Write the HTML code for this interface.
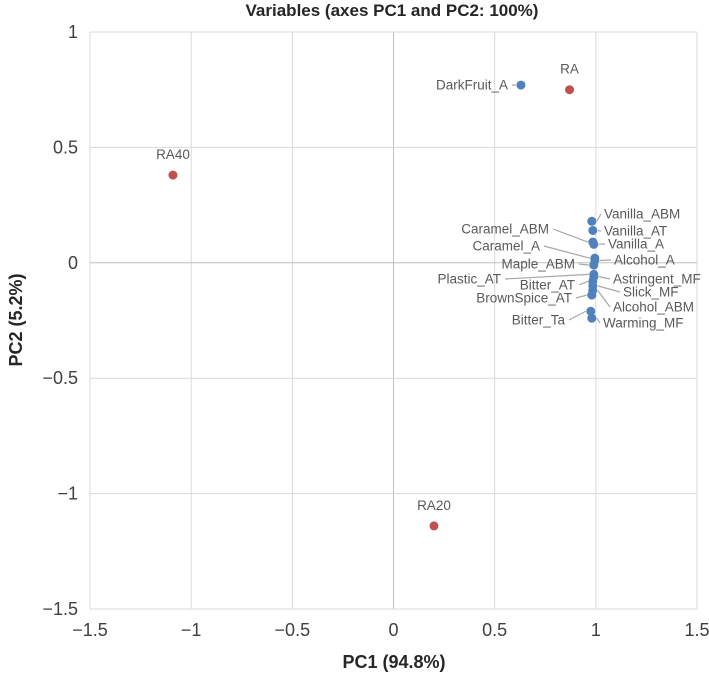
<!DOCTYPE html>
<html><head><meta charset="utf-8"><style>
body{margin:0;background:#fff}
svg{display:block;font-family:"Liberation Sans Narrow","Liberation Sans",sans-serif}
</style></head><body>
<svg id="c" width="709" height="684" viewBox="0 0 709 684">
<text x="392" y="16" text-anchor="middle" font-size="17" font-weight="bold" fill="#262626">Variables (axes PC1 and PC2: 100%)</text>
<text x="394" y="668" text-anchor="middle" font-size="18" font-weight="bold" fill="#262626">PC1 (94.8%)</text>
<text transform="translate(22,320) rotate(-90)" text-anchor="middle" font-size="18" font-weight="bold" fill="#262626">PC2 (5.2%)</text>
<g id="grid"></g><g id="lines"></g><g id="pts"></g><g id="labs"></g>
</svg>
<script>
const xTicks=[-1.5,-1,-0.5,0,0.5,1,1.5];
const yTicks=[1,0.5,0,-0.5,-1,-1.5];
const varNames=["DarkFruit_A","Vanilla_ABM","Vanilla_AT","Caramel_ABM","Vanilla_A","Caramel_A","Alcohol_A","Maple_ABM","Plastic_AT","Astringent_MF","Bitter_AT","Slick_MF","BrownSpice_AT","Alcohol_ABM","Bitter_Ta","Warming_MF"];
const varPC1=[0.63,0.98,0.985,0.985,0.99,0.995,0.995,0.99,0.99,0.99,0.985,0.985,0.98,0.985,0.975,0.98];
const varPC2=[0.77,0.18,0.14,0.09,0.08,0.02,0.01,-0.01,-0.05,-0.06,-0.08,-0.10,-0.14,-0.12,-0.21,-0.24];
const obsNames=["RA","RA40","RA20"];
const obsPC1=[0.87,-1.09,0.2];
const obsPC2=[0.75,0.38,-1.14];
// label layout (pixel anchors, not data): [x, y, anchor]
const labLayout=[[508,0,"end"],[604,214,"start"],[604,231,"start"],[549,229,"end"],[608,244,"start"],[540,246,"end"],[614,260,"start"],[575,264,"end"],[501,279,"end"],[613,279,"start"],[575,285,"end"],[623,292,"start"],[572,298,"end"],[613,307,"start"],[565,320,"end"],[603,323,"start"]];
const X0=90,X1=697,Y0=32,Y1=609;
const xs=v=>X0+(v+1.5)/3*(X1-X0);
const ys=v=>Y0+(1-v)/2.5*(Y1-Y0);
const NS="http://www.w3.org/2000/svg";
function mk(t,a,p){const e=document.createElementNS(NS,t);for(const k in a)e.setAttribute(k,a[k]);p.appendChild(e);return e;}
const g=document.getElementById('grid'),L=document.getElementById('lines'),P=document.getElementById('pts'),T=document.getElementById('labs');
xTicks.forEach(v=>{
 const l=mk('line',{x1:xs(v),x2:xs(v),y1:Y0,y2:Y1,stroke:v===0?'#bfbfbf':'#d9d9d9','stroke-width':1},g);
 
 
 const t=mk('text',{x:xs(v),y:Y1+27,'text-anchor':'middle','font-size':18,fill:'#404040'},g);t.textContent=String(v).replace('-','\u2212');
 
 
});
yTicks.forEach(v=>{
 const l=mk('line',{x1:X0,x2:X1,y1:ys(v),y2:ys(v),stroke:v===0?'#bfbfbf':'#d9d9d9','stroke-width':1},g);
 
 
 const t=mk('text',{x:X0-12,y:ys(v)+6,'text-anchor':'end','font-size':18,fill:'#404040'},g);t.textContent=String(v).replace('-','\u2212');
 
 
});
varNames.forEach((n,i)=>{
 const px=xs(varPC1[i]),py=ys(varPC2[i]);
 const c=mk('circle',{cx:px,cy:py,r:4.5,fill:'#4f81bd'},P);
 
 
 let [lx,ly,an]=labLayout[i];
 if(i===0)ly=py;
 const t=mk('text',{x:lx,y:ly+4.5,'text-anchor':an,'font-size':13.5,fill:'#595959'},T);t.textContent=n;
 
 
 const sx=an==='end'?lx+4:lx-3;
 const ex=an==='end'?px-5:px+5;
 const ln=mk('line',{x1:sx,y1:ly,x2:ex,y2:py,stroke:'#a6a6a6','stroke-width':1.2},L);
 
 
});
obsNames.forEach((n,i)=>{
 const px=xs(obsPC1[i]),py=ys(obsPC2[i]);
 const c=mk('circle',{cx:px,cy:py,r:4.5,fill:'#c0504d'},P);
 
 
 const t=mk('text',{x:px,y:py-16,'text-anchor':'middle','font-size':13.5,fill:'#595959'},T);t.textContent=n;
 
 
});
</script>
</body></html>
